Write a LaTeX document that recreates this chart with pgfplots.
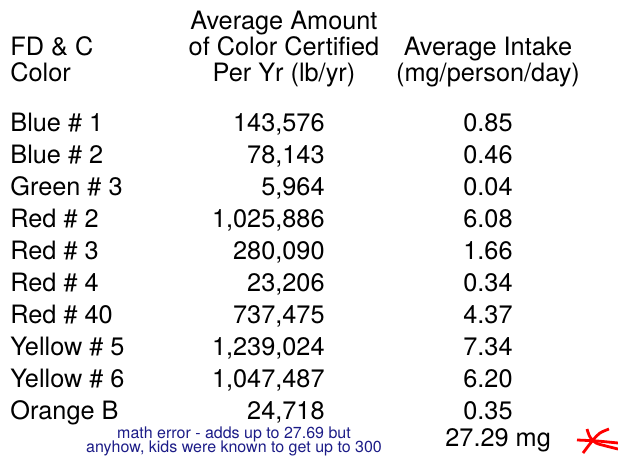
\documentclass[border=0pt]{standalone}
\usepackage{fontspec}
\setmainfont{TeX Gyre Heros}
\usepackage{pgfplots}
\pgfplotsset{compat=1.18}
\definecolor{noteblue}{RGB}{28,28,135}
\begin{document}
\begin{tikzpicture}
\useasboundingbox (0,0) rectangle (309pt,228pt);
\clip (0,0) rectangle (309pt,228pt);
\begin{axis}[
  at={(0,0)}, anchor=south west,
  scale only axis, width=309pt, height=228pt,
  xmin=0, xmax=618, ymin=0, ymax=456, y dir=reverse,
  hide axis, clip=false,
  point meta=explicit symbolic,
  nodes near coords={\pgfplotspointmeta},
  every node near coord/.append style={inner sep=0pt, font=\fontsize{12.65}{14}\selectfont, text=black},
]
% header, left column
\addplot[draw=none, mark=none, nodes near coords style={anchor=base west}] coordinates {
 (10,55) [FD \& C]
 (10,81) [Color]
};
% header, middle and right columns
\addplot[draw=none, mark=none, nodes near coords style={anchor=base}] coordinates {
 (284,29) [Average Amount]
 (284,55) [of Color Certified]
 (284,81) [Per Yr (lb/yr)]
 (488,55) [Average Intake]
 (488,81) [(mg/person/day)]
};
% colour names
\addplot[draw=none, mark=none, nodes near coords style={anchor=base west}] coordinates {
 (10,131) [Blue \# 1]
 (10,163) [Blue \# 2]
 (10,195) [Green \# 3]
 (10,227) [Red \# 2]
 (10,259) [Red \# 3]
 (10,291) [Red \# 4]
 (10,323) [Red \# 40]
 (10,355) [Yellow \# 5]
 (10,387) [Yellow \# 6]
 (10,419) [Orange B]
};
% amount certified (lb/yr)
\addplot[draw=none, mark=none, nodes near coords style={anchor=base east}] coordinates {
 (325,131) [143,576]
 (325,163) [78,143]
 (325,195) [5,964]
 (325,227) [1,025,886]
 (325,259) [280,090]
 (325,291) [23,206]
 (325,323) [737,475]
 (325,355) [1,239,024]
 (325,387) [1,047,487]
 (325,419) [24,718]
};
% intake (mg/person/day)
\addplot[draw=none, mark=none, nodes near coords style={anchor=base east}] coordinates {
 (513,131) [0.85]
 (513,163) [0.46]
 (513,195) [0.04]
 (513,227) [6.08]
 (513,259) [1.66]
 (513,291) [0.34]
 (513,323) [4.37]
 (513,355) [7.34]
 (513,387) [6.20]
 (513,419) [0.35]
};
% total
\addplot[draw=none, mark=none, nodes near coords style={anchor=base west}] coordinates {
 (445,446) [27.29 mg]
};
% note
\addplot[draw=none, mark=none, nodes near coords style={anchor=base, font=\fontsize{8}{9}\selectfont, text=noteblue}] coordinates {
 (234,438) [math error - adds up to 27.69 but]
 (234,452) [anyhow, kids were known to get up to 300]
};
% red hand-drawn star
\addplot[red, line width=1.4pt, smooth, mark=none, nodes near coords={}] coordinates {(577,440) (597,441) (618,443)};
\addplot[red, line width=1.4pt, smooth, mark=none, nodes near coords={}] coordinates {(587,429) (590,437) (596,443) (606,446) (618,449)};
\addplot[red, line width=1.4pt, smooth, mark=none, nodes near coords={}] coordinates {(609,429) (600,433) (593,440) (583,453)};
\end{axis}
\end{tikzpicture}
\end{document}
